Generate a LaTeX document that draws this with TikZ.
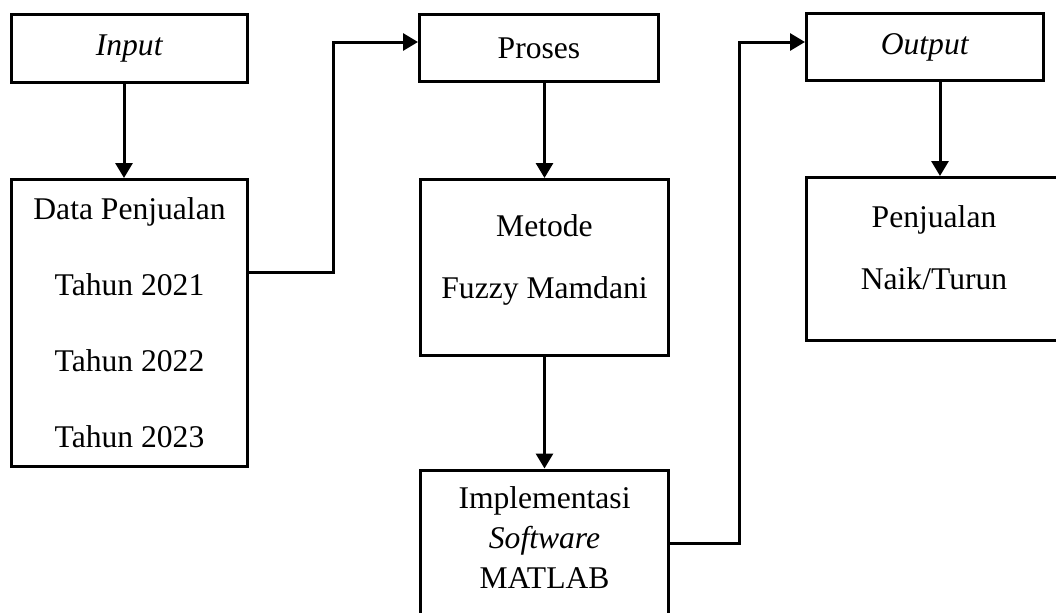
\documentclass[tikz,border=0pt]{standalone}
\usepackage{fontspec}
\setmainfont{Liberation Serif}
\usetikzlibrary{arrows.meta}

\begin{document}
\begin{tikzpicture}[x=0.5pt,y=-0.5pt,
        box/.style={draw,line width=1.5pt,inner sep=0pt,align=center,font=\fontsize{15.8}{18.5}\selectfont},
        txt/.style={inner sep=0pt,align=center,anchor=north},
        flow/.style={line width=1.5pt,-{Triangle[length=7.5pt,width=8.5pt]}}]
        % Page
        \useasboundingbox (0,0) rectangle (1056,612);
        \clip (0,0) rectangle (1056,612);

        % Input column
        \node[box,minimum width=118pt,minimum height=34pt] (inp) at (129.5,48.5) {\textit{Input}};
        \node[box,minimum width=118pt,minimum height=143.5pt,font=\fontsize{15.8}{38}\selectfont] (data) at (129.5,323)
            {Data Penjualan\\Tahun 2021\\Tahun 2022\\Tahun 2023};

        % Process column
        \node[box,minimum width=119.5pt,minimum height=33.5pt] (proses) at (539,48) {Proses};
        \node[box,minimum width=124pt,minimum height=88pt] (metode) at (544.5,267.5) {};
        \node[txt,font=\fontsize{15.8}{31}\selectfont] (metodetext) at (544.5,214) {Metode\\Fuzzy Mamdani};
        \node[box,minimum width=124pt,minimum height=85pt] (impl) at (544.5,555) {};
        \node[txt,font=\fontsize{15.8}{20}\selectfont] (impltext) at (544.5,486) {Implementasi\\\textit{Software}\\MATLAB};

        % Output column
        \node[box,minimum width=118.5pt,minimum height=33.5pt] (outp) at (925,47) {\textit{Output}};
        \node[box,minimum width=133.5pt,minimum height=81.5pt] (hasil) at (940,259) {};
        \node[txt,font=\fontsize{15.8}{31}\selectfont] (hasiltext) at (934,205) {Penjualan\\Naik/Turun};

        % Arrows
        \draw[flow] ([xshift=-2.75pt]inp.south) -- ([xshift=-2.75pt]data.north);
        \draw[flow] (metode.north |- proses.south) -- (metode.north);
        \draw[flow] (metode.south) -- (impl.north);
        \draw[flow] (hasil.north |- outp.south) -- (hasil.north);
        \draw[flow] ([yshift=-47pt]data.north east) -- ++(84,0) |- ([yshift=3pt]proses.west);
        \draw[flow] ([yshift=-37.5pt]impl.north east) -- ++(69,0) |- ([yshift=2.5pt]outp.west);
    \end{tikzpicture}
\end{document}
